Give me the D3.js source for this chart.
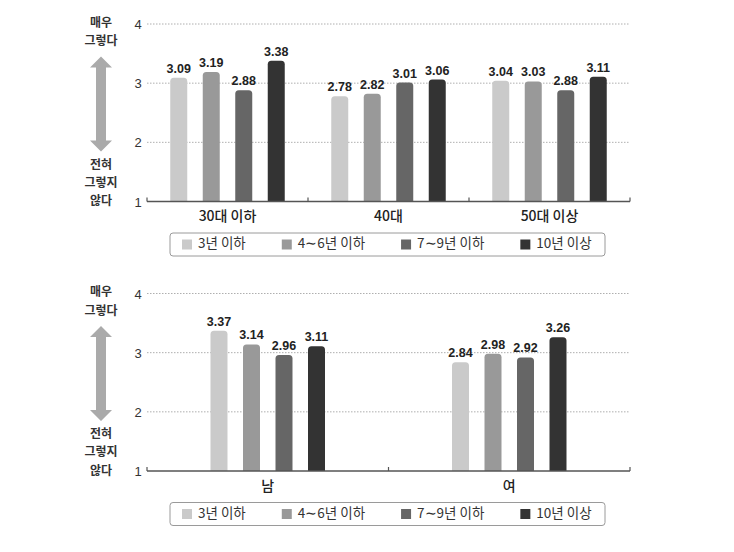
<!DOCTYPE html>
<html>
<head>
<meta charset="utf-8">
<script src="https://cdn.jsdelivr.net/npm/d3@7"></script>
<style>
  html, body { margin: 0; padding: 0; background: #fff; }
  svg { display: block; }
</style>
</head>
<body>
<svg id="chart" width="734" height="552"></svg>
<script>
// ---- data ----
const seriesNames = ["3년 이하", "4∼6년 이하", "7∼9년 이하", "10년 이상"];
const seriesColors = ["#cacaca", "#999999", "#666666", "#333333"];
const ageCategories = ["30대 이하", "40대", "50대 이상"];
const ageValues = [
  [3.09, 3.19, 2.88, 3.38],
  [2.78, 2.82, 3.01, 3.06],
  [3.04, 3.03, 2.88, 3.11]
];
const genderCategories = ["남", "여"];
const genderValues = [
  [3.37, 3.14, 2.96, 3.11],
  [2.84, 2.98, 2.92, 3.26]
];
const yTicks = [1, 2, 3, 4];
const topLabel = ["매우", "그렇다"];
const bottomLabel = ["전혀", "그렇지", "않다"];

// ---- drawing ----
const svg = d3.select("#chart");
const FONT = "'Noto Sans CJK KR', 'Noto Sans', sans-serif";
const NUMFONT = "'Liberation Sans', Arial, sans-serif";

function roundTopPath(x, y, w, h, r) {
  r = Math.min(r, w / 2, h);
  return `M${x},${y + h}V${y + r}Q${x},${y} ${x + r},${y}H${x + w - r}Q${x + w},${y} ${x + w},${y + r}V${y + h}Z`;
}

function drawPanel(offsetY, categories, values) {
  const g = svg.append("g").attr("transform", `translate(0,${offsetY})`);
  const left = 147, right = 630, top = 24, bottom = 201.5;

  const y = d3.scaleLinear().domain([1, 4]).range([bottom, top]);
  const x0 = d3.scaleBand().domain(categories).range([left, right]).padding(0);
  const x1 = d3.scaleBand().domain(seriesNames).range([-65, 65])
    .paddingInner(0.477).paddingOuter(0.2385);

  // gridlines
  g.append("g").selectAll("line").data(yTicks.filter(t => t > 1)).join("line")
    .attr("x1", left).attr("x2", right)
    .attr("y1", d => y(d)).attr("y2", d => y(d))
    .attr("stroke", "#9a9a9a").attr("stroke-width", 0.8)
    .attr("stroke-dasharray", "1.5,1.5");

  // y tick labels via axis
  const yAxis = d3.axisLeft(y).tickValues(yTicks).tickSize(0).tickPadding(0).tickFormat(d3.format("d"));
  const ya = g.append("g").attr("transform", `translate(${left - 5},0)`).call(yAxis);
  ya.select(".domain").remove();
  ya.selectAll("text").attr("font-family", NUMFONT).attr("font-size", 13)
    .attr("fill", "#333").attr("text-anchor", "middle").attr("dx", -4).attr("dy", "0.35em");

  // bars
  const groups = g.append("g").selectAll("g").data(categories).join("g")
    .attr("transform", d => `translate(${x0(d) + x0.bandwidth() / 2},0)`);
  groups.each(function(cat, ci) {
    const gg = d3.select(this);
    const vals = values[ci].map((v, si) => ({ v, s: seriesNames[si], c: seriesColors[si] }));
    gg.selectAll("path").data(vals).join("path")
      .attr("d", d => roundTopPath(x1(d.s), y(d.v), x1.bandwidth(), y(1) - y(d.v), 3.5))
      .attr("fill", d => d.c);
    gg.selectAll("text").data(vals).join("text")
      .attr("x", d => x1(d.s) + x1.bandwidth() / 2)
      .attr("y", d => y(d.v) - 5)
      .attr("text-anchor", "middle")
      .attr("font-family", NUMFONT).attr("font-weight", "bold")
      .attr("font-size", 12.5).attr("fill", "#222")
      .text(d => d3.format(".2f")(d.v));
  });

  // baseline with upward ticks at group boundaries
  g.append("line").attr("x1", left).attr("x2", right)
    .attr("y1", y(1)).attr("y2", y(1))
    .attr("stroke", "#555").attr("stroke-width", 1.5);
  const bounds = categories.map(c => x0(c)).concat([right]);
  g.append("g").selectAll("line").data(bounds).join("line")
    .attr("x1", d => d).attr("x2", d => d)
    .attr("y1", y(1)).attr("y2", y(1) - 4)
    .attr("stroke", "#555").attr("stroke-width", 1.2);

  // category labels
  g.append("g").selectAll("text").data(categories).join("text")
    .attr("x", d => x0(d) + x0.bandwidth() / 2)
    .attr("y", y(1) + 16)
    .attr("text-anchor", "middle").attr("dominant-baseline", "middle")
    .attr("font-family", FONT).attr("font-size", 14).attr("font-weight", 500)
    .attr("fill", "#222")
    .text(d => d);

  // left annotation
  const ax = 101;
  g.append("g").selectAll("text").data(topLabel).join("text")
    .attr("x", ax).attr("y", (d, i) => 23.5 + i * 18.5)
    .attr("text-anchor", "middle").attr("dominant-baseline", "middle")
    .attr("font-family", FONT).attr("font-size", 12).attr("font-weight", "bold")
    .attr("fill", "#333").text(d => d);
  g.append("g").selectAll("text").data(bottomLabel).join("text")
    .attr("x", ax).attr("y", (d, i) => 165.5 + i * 18.2)
    .attr("text-anchor", "middle").attr("dominant-baseline", "middle")
    .attr("font-family", FONT).attr("font-size", 12).attr("font-weight", "bold")
    .attr("fill", "#333").text(d => d);
  // double arrow
  const aTop = 56.5, aBot = 151.5, hw = 11, sw = 5, hl = 11;
  g.append("path")
    .attr("d", `M${ax},${aTop} L${ax + hw},${aTop + hl} L${ax + sw},${aTop + hl} L${ax + sw},${aBot - hl} L${ax + hw},${aBot - hl} L${ax},${aBot} L${ax - hw},${aBot - hl} L${ax - sw},${aBot - hl} L${ax - sw},${aTop + hl} L${ax - hw},${aTop + hl} Z`)
    .attr("fill", "#aaaaaa");

  // legend
  const lg = g.append("g");
  lg.append("rect").attr("x", 170).attr("y", bottom + 31.5).attr("width", 435).attr("height", 23)
    .attr("rx", 3).attr("fill", "#fff").attr("stroke", "#9a9a9a").attr("stroke-width", 1);
  let cx = 182;
  const ly = bottom + 31.5 + 11.5;
  seriesNames.forEach((s, i) => {
    lg.append("rect").attr("x", cx).attr("y", ly - 5).attr("width", 10).attr("height", 10)
      .attr("fill", seriesColors[i]);
    const t = lg.append("text").attr("x", cx + 16).attr("y", ly)
      .attr("dominant-baseline", "middle")
      .attr("font-family", FONT).attr("font-size", 13.5).attr("fill", "#333").text(s);
    cx += 16 + t.node().getComputedTextLength() + 36;
  });
}

drawPanel(0, ageCategories, ageValues);
drawPanel(269.5, genderCategories, genderValues);
</script>
</body>
</html>
